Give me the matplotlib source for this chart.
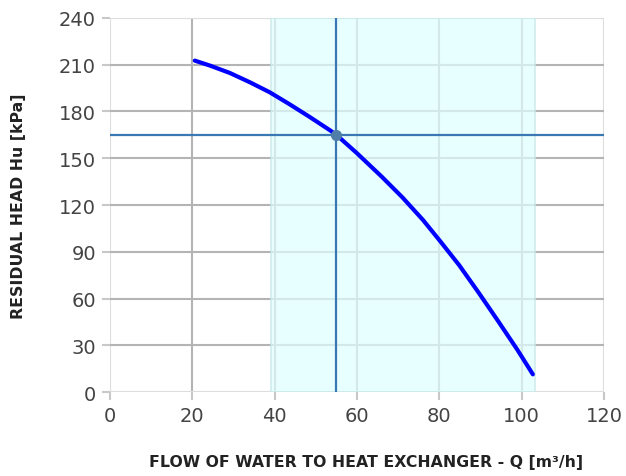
import matplotlib.pyplot as plt

# pump curve
flow = [20.6, 24.3, 29.1, 34.0, 38.8, 43.7, 48.5, 53.4, 55, 60, 66, 71, 76,
        80, 84.8, 89.5, 94.3, 99.0, 102.7]
head = [212.6, 209.4, 204.7, 198.7, 192.3, 184.5, 176.5, 168.0, 165, 153.2,
        138.2, 125.0, 110.5, 97.5, 81.5, 64, 45.5, 27, 11.5]

duty_flow = 55
duty_head = 165
range_min = 39
range_max = 103.2

x_ticks = [0, 20, 40, 60, 80, 100, 120]
y_ticks = [0, 30, 60, 90, 120, 150, 180, 210, 240]


def main():
    fig = plt.figure(figsize=(6.26, 4.77), dpi=100)
    ax = fig.add_axes([0.1757, 0.1755, 0.7893, 0.7849])

    grid_dark = "#b4b4b4"
    grid_light = "#dddddd"
    for x in x_ticks:
        c = grid_light if x in (0, 120) else grid_dark
        ax.axvline(x, color=c, lw=1.5, zorder=1)
    for y in y_ticks:
        c = grid_light if y in (0, 240) else grid_dark
        ax.axhline(y, color=c, lw=1.5, zorder=1)

    ax.axvspan(range_min, range_max, facecolor="#e0ffff", edgecolor="#c4e6e6",
               lw=1.2, alpha=0.72, zorder=2)

    ax.plot([0, 120], [duty_head, duty_head], color="#3a78b4", lw=1.6, zorder=3)
    ax.plot([duty_flow, duty_flow], [0, 240], color="#3a78b4", lw=1.6, zorder=3)
    ax.plot(flow, head, color="#0000ff", lw=3, solid_capstyle="round",
            solid_joinstyle="round", zorder=4)
    ax.plot([duty_flow], [duty_head], "o", color="#4f7fa8", ms=7, zorder=5)

    ax.set_xlim(0, 120)
    ax.set_ylim(0, 240)
    ax.set_xticks(x_ticks)
    ax.set_yticks(y_ticks)
    for s in ax.spines.values():
        s.set_visible(False)
    ax.tick_params(length=6, width=1.5, color="#c8c8c8", labelsize=14,
                   labelcolor="#444444", pad=4)

    ax.set_xlabel("FLOW OF WATER TO HEAT EXCHANGER - Q [m³/h]", fontsize=11.3,
                  fontweight="bold", color="#222222")
    ax.xaxis.set_label_coords(0.518, -0.165)
    ax.set_ylabel("RESIDUAL HEAD Hu [kPa]", fontsize=11.3, fontweight="bold",
                  color="#222222", labelpad=24)

    fig.savefig("out.png", dpi=100)


if __name__ == '__main__':
    main()
